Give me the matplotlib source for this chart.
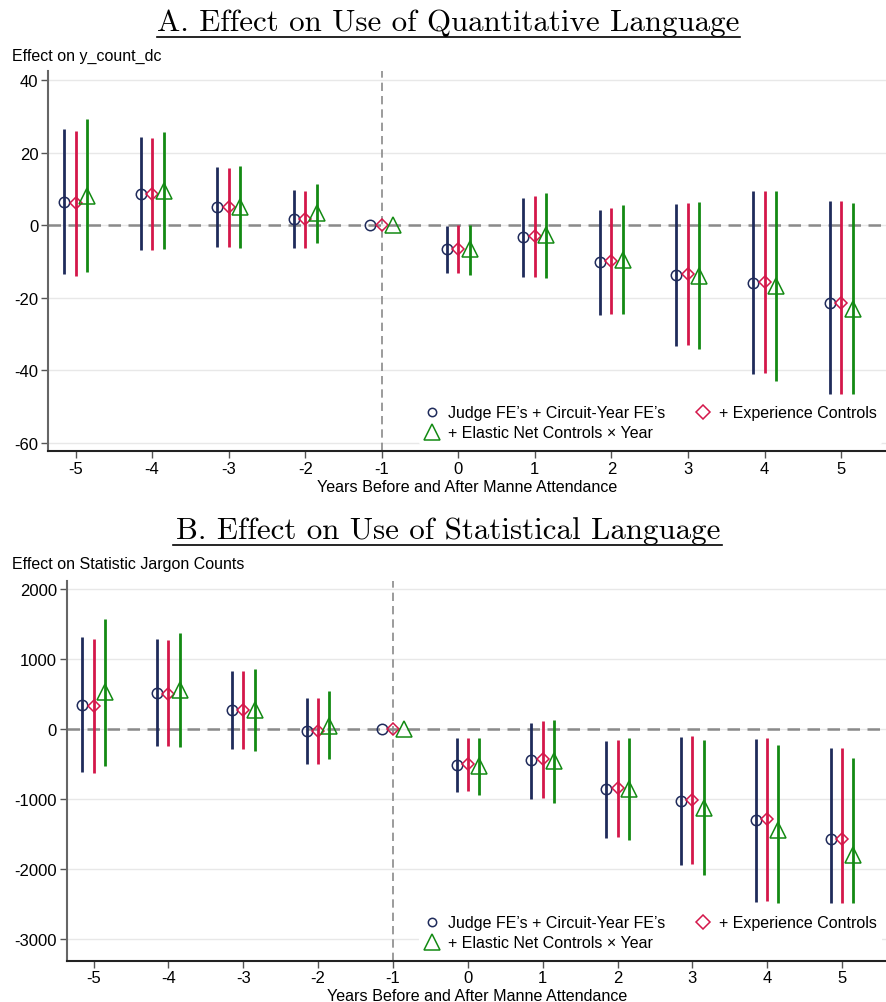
import matplotlib
matplotlib.use("Agg")
import matplotlib.pyplot as plt
from matplotlib.lines import Line2D
import numpy as np

plt.rcParams['font.family'] = ['Liberation Sans', 'DejaVu Sans']
plt.rcParams['axes.unicode_minus'] = False

years = [-5, -4, -3, -2, -1, 0, 1, 2, 3, 4, 5]
series_names = ["Judge FE\u2019s + Circuit-Year FE\u2019s", "+ Experience Controls",
                "+ Elastic Net Controls \u00d7 Year"]

# Panel A: estimate, lower CI, upper CI
a_base_est = [6.3, 8.7, 5.1, 1.7, 0, -6.7, -3.4, -10.3, -13.8, -15.9, -21.5]
a_base_lo = [-13.6, -6.8, -6.0, -6.3, 0, -13.2, -14.4, -24.7, -33.4, -41.1, -46.5]
a_base_hi = [26.5, 24.2, 16.0, 9.7, 0, -0.2, 7.6, 4.2, 5.7, 9.3, 6.6]
a_exp_est = [6.0, 8.5, 4.9, 1.6, 0, -6.6, -3.1, -10.0, -13.6, -15.7, -21.5]
a_exp_lo = [-13.9, -6.9, -6.0, -6.3, 0, -13.2, -14.2, -24.5, -33.1, -40.9, -46.5]
a_exp_hi = [26.0, 24.0, 15.7, 9.5, 0, -0.1, 7.9, 4.6, 6.1, 9.4, 6.6]
a_en_est = [8.0, 9.5, 4.9, 3.3, 0, -6.7, -2.8, -9.5, -14.0, -16.8, -23.2]
a_en_lo = [-12.8, -6.5, -6.3, -4.9, 0, -13.7, -14.6, -24.5, -34.3, -42.9, -46.5]
a_en_hi = [29.2, 25.7, 16.3, 11.3, 0, 0.1, 8.9, 5.6, 6.3, 9.4, 6.1]

# Panel B
b_base_est = [352, 524, 281, -24, 0, -510, -443, -857, -1024, -1300, -1567]
b_base_lo = [-610, -233, -276, -490, 0, -890, -990, -1548, -1938, -2462, -2480]
b_base_hi = [1314, 1286, 838, 448, 0, -129, 95, -171, -114, -143, -267]
b_exp_est = [333, 510, 271, -29, 0, -500, -429, -838, -1005, -1286, -1567]
b_exp_lo = [-629, -238, -286, -490, 0, -886, -976, -1533, -1919, -2448, -2480]
b_exp_hi = [1295, 1271, 829, 443, 0, -119, 119, -148, -90, -129, -267]
b_en_est = [530, 560, 270, 50, 0, -530, -460, -850, -1120, -1440, -1800]
b_en_lo = [-519, -248, -314, -429, 0, -943, -1048, -1586, -2086, -2480, -2480]
b_en_hi = [1576, 1381, 862, 548, 0, -124, 138, -119, -157, -229, -414]

a_yticks = [40, 20, 0, -20, -40, -60]
b_yticks = [2000, 1000, 0, -1000, -2000, -3000]

colors = ['#1f2b5b', '#d4174a', '#138a13']
markers = ['o', 'D', '^']
msizes = [7.5, 6.5, 11]
offsets = [-0.15, 0.0, 0.15]

W, H = 887, 1003
fig = plt.figure(figsize=(W / 100, H / 100), dpi=100)


def px_rect(l, t, r, b):
    return [l / W, 1 - b / H, (r - l) / W, (b - t) / H]


def panel(rect, data, ylim, yticks, ylabel, title, title_y, ul_x, ul_y, leg_y):
    ax = fig.add_axes(rect)
    x = np.array(years, dtype=float)
    for k, (est, lo, hi) in enumerate(data):
        xs = x + offsets[k]
        ax.vlines(xs, lo, hi, color=colors[k], lw=2.0, zorder=3)
        ax.plot(xs, est, linestyle='none', marker=markers[k], ms=msizes[k],
                mfc='none', mec=colors[k], mew=1.1, zorder=4)
    ax.set_xlim(-5.36, 5.6)
    ax.set_ylim(*ylim)
    ax.set_xticks(years)
    ax.set_xticklabels([str(v) for v in years])
    ax.set_yticks(yticks)
    ax.set_yticklabels([str(v) for v in yticks])
    ax.grid(axis='y', color='#e8e8e8', lw=1.0, zorder=0)
    ax.axhline(0, color='#8a8a8a', lw=1.8, ls=(0, (5, 3)), zorder=2)
    ax.axvline(-1, color='#8a8a8a', lw=1.2, ls=(0, (5, 3)), zorder=2)
    ax.tick_params(axis='both', labelsize=12, length=5, width=1, color='#555555', pad=2)
    ax.spines['top'].set_visible(False)
    ax.spines['right'].set_visible(False)
    ax.spines['left'].set_color('#666666')
    ax.spines['left'].set_linewidth(1.5)
    ax.spines['bottom'].set_color('#222222')
    ax.spines['bottom'].set_linewidth(1.5)
    ax.set_xlabel("Years Before and After Manne Attendance", fontsize=11.6, labelpad=2)
    fig.text(12 / W, 1 - ylabel[1] / H, ylabel[0], fontsize=11.5, ha='left', va='center')
    fig.text(0.505, 1 - title_y / H, title, family='cmr10', fontsize=22.3,
             ha='center', va='baseline')
    fig.add_artist(Line2D([ul_x[0] / W, ul_x[1] / W], [1 - ul_y / H, 1 - ul_y / H],
                          color='black', lw=1.2))
    handles = [Line2D([], [], ls='none', marker=markers[k], ms=[6, 7, 11][k], mfc='none',
                      mec=colors[k], mew=1.1) for k in range(3)]
    leg = ax.legend([handles[0], handles[2], handles[1]],
                    [series_names[0], series_names[2], series_names[1]],
                    ncol=2, loc='lower left', bbox_to_anchor=(419 / W, 1 - leg_y / H),
                    bbox_transform=fig.transFigure, frameon=True, fontsize=11.5,
                    handlelength=1.0, handletextpad=0.5, columnspacing=1.9,
                    labelspacing=0.3, borderpad=0.3, borderaxespad=0)
    leg.get_frame().set_facecolor('white')
    leg.get_frame().set_edgecolor('none')
    leg.get_frame().set_alpha(1)
    leg.set_zorder(5)
    return ax


panel(px_rect(48, 72, W, 452),
      [(a_base_est, a_base_lo, a_base_hi), (a_exp_est, a_exp_lo, a_exp_hi),
       (a_en_est, a_en_lo, a_en_hi)],
      (-62.3, 42.5), a_yticks, ("Effect on y_count_dc", 56),
      "A. Effect on Use of Quantitative Language", 31, (157, 740), 38, 446)

panel(px_rect(66.7, 581.7, W, 961.7),
      [(b_base_est, b_base_lo, b_base_hi), (b_exp_est, b_exp_lo, b_exp_hi),
       (b_en_est, b_en_lo, b_en_hi)],
      (-3306, 2123), b_yticks, ("Effect on Statistic Jargon Counts", 565),
      "B. Effect on Use of Statistical Language", 539, (173, 722), 546, 956)

fig.savefig("out.png", dpi=100)
